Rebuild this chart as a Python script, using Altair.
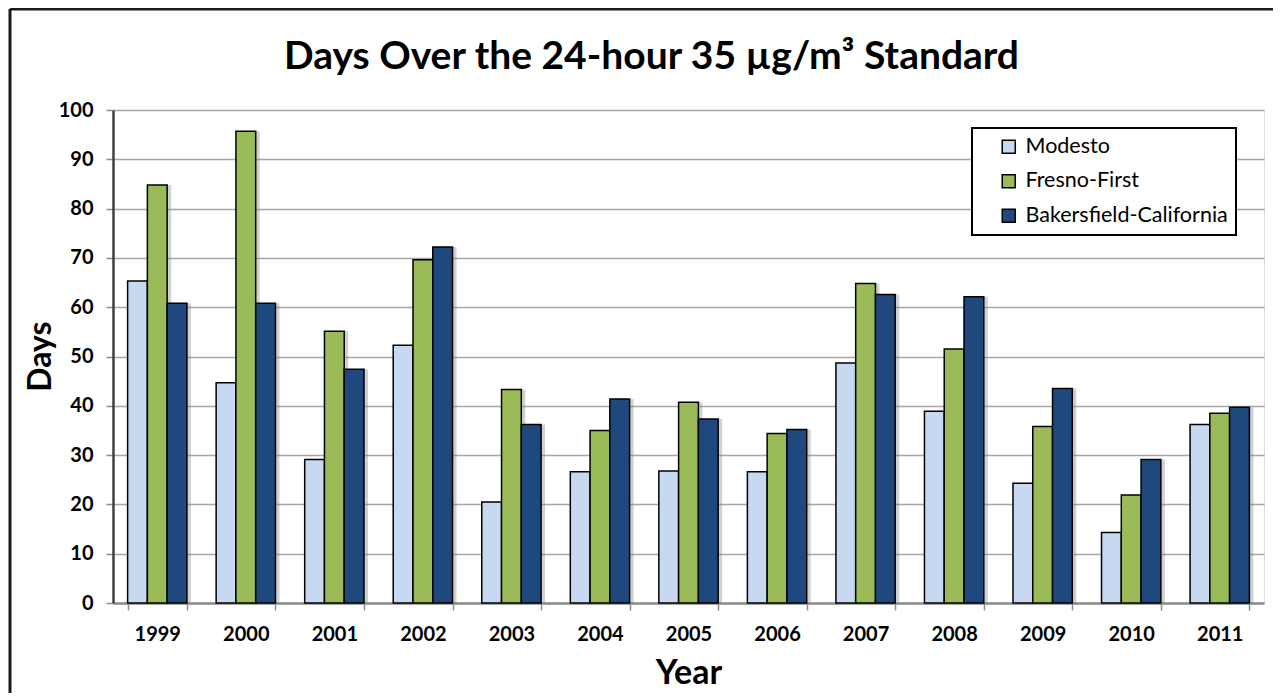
import altair as alt
import pandas as pd

years = ["1999", "2000", "2001", "2002", "2003", "2004", "2005",
         "2006", "2007", "2008", "2009", "2010", "2011"]
series = ["Modesto", "Fresno-First", "Bakersfield-California"]
modesto = [65.3, 44.7, 29.1, 52.3, 20.5, 26.6, 26.8, 26.6, 48.7, 38.9, 24.3, 14.3, 36.2]
fresno = [84.8, 95.7, 55.1, 69.6, 43.3, 35.0, 40.7, 34.4, 64.8, 51.5, 35.8, 21.9, 38.5]
bakersfield = [60.8, 60.8, 47.4, 72.2, 36.2, 41.4, 37.3, 35.2, 62.6, 62.1, 43.5, 29.1, 39.7]
colors = ["#C6D9F1", "#9BBB59", "#1F497D"]
y_ticks = [0, 10, 20, 30, 40, 50, 60, 70, 80, 90, 100]

rows = []
for name, vals in zip(series, [modesto, fresno, bakersfield]):
    for yr, v in zip(years, vals):
        rows.append({"Year": yr, "Site": name, "Days": v})
df = pd.DataFrame(rows)

FONT = "Lato"
W = 1151
STEP = W / 13.0
BAND = STEP * 0.67

x_enc = alt.X("Year:N", sort=years,
              scale=alt.Scale(paddingInner=0.33, paddingOuter=0.165),
              axis=alt.Axis(title="Year", labelAngle=0, labelFont=FONT, labelFontSize=20,
                            labelFontWeight="bold", labelColor="black", labelPadding=14,
                            tickBand="extent", tickColor="#8c8c8c", tickSize=7, tickWidth=1.5,
                            domainColor="#8c8c8c", domainWidth=2.5,
                            titleFont=FONT, titleFontSize=34, titleFontWeight="bold",
                            titleColor="black", titleY=70, titleBaseline="middle"))
y_enc = alt.Y("Days:Q", scale=alt.Scale(domain=[0, 100], nice=False),
              axis=alt.Axis(title="Days", values=y_ticks, labelFont=FONT, labelFontSize=20,
                            labelFontWeight="bold", labelColor="black", labelPadding=13,
                            tickColor="#8c8c8c", tickSize=7, tickWidth=1.5,
                            domainColor="#404040", domainWidth=2.5,
                            gridColor="#a6a6a6", gridWidth=1.5,
                            titleFont=FONT, titleFontSize=32, titleFontWeight="bold",
                            titleColor="black", titleX=-73, titleY=246, titleAngle=270,
                            titleBaseline="middle"))

shadow = alt.Chart(df).mark_bar(color="#7a7a7a", opacity=0.35).encode(
    x=x_enc,
    xOffset=alt.XOffset("Site:N", sort=series,
                        scale=alt.Scale(range=[4, BAND + 4], paddingInner=0, paddingOuter=0)),
    y=y_enc)

bars = alt.Chart(df).mark_bar(stroke="black", strokeWidth=1.5).encode(
    x=x_enc,
    xOffset=alt.XOffset("Site:N", sort=series, scale=alt.Scale(paddingInner=0, paddingOuter=0)),
    y=y_enc,
    color=alt.Color("Site:N", sort=series,
                    scale=alt.Scale(domain=series, range=colors),
                    legend=alt.Legend(title=None, orient="none", legendX=859, legendY=18,
                                      symbolType="square", symbolSize=170,
                                      symbolStrokeColor="black", symbolStrokeWidth=1.5,
                                      symbolOffset=18, labelOffset=6, labelLimit=400,
                                      labelFont=FONT, labelFontSize=21.5, labelColor="black",
                                      rowPadding=11.5, padding=8,
                                      strokeColor="black",
                                      fillColor="white")),
)

frame_df = pd.DataFrame({"k": [0]})
frame_left = alt.Chart(frame_df).mark_rule(color="#1a1a1a", strokeWidth=3).encode(
    x=alt.value(-103), y=alt.value(-101), y2=alt.value(700))
frame_top = alt.Chart(frame_df).mark_rule(color="#1a1a1a", strokeWidth=3).encode(
    x=alt.value(-103), x2=alt.value(1300), y=alt.value(-101))

chart = alt.layer(frame_left, frame_top, shadow, bars).resolve_scale(
    xOffset="independent"
).properties(
    width=W, height=493,
    autosize=alt.AutoSizeParams(type="none"),
    padding={"left": 105, "top": 102, "right": 9, "bottom": 90},
    title=alt.TitleParams("Days Over the 24-hour 35 µg/m³ Standard",
                          font=FONT, fontSize=39, fontWeight="bold", color="black",
                          anchor="middle", dx=-37, offset=-108, baseline="bottom"),
).configure_view(stroke="black", strokeWidth=2.5).configure(background="white"
).configure_legend(strokeWidth=2)

chart.save("out.html", embed_options={"renderer": "svg", "actions": False})
